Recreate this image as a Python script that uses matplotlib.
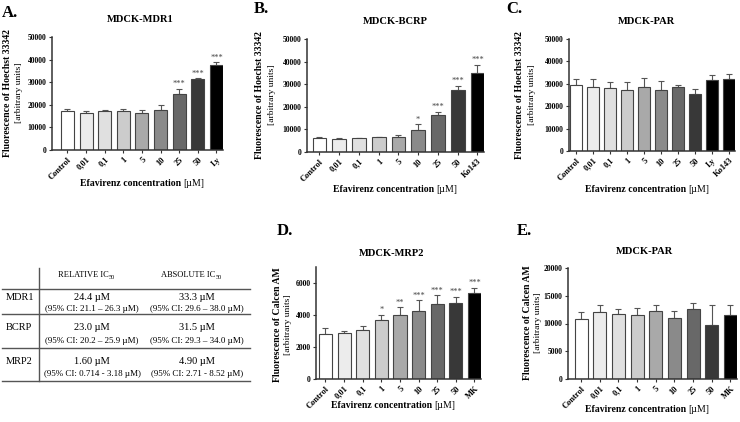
import numpy as np
import matplotlib
matplotlib.use("Agg")
import matplotlib.pyplot as plt

plt.rcParams['font.family'] = ['Liberation Serif', 'DejaVu Serif']

# ---- data ----
conc = ['Control', '0,01', '0,1', '1', '5', '10', '25', '50']

mdr1_labels = conc + ['Ly']
mdr1_mean = [17400, 16500, 17400, 17300, 16500, 17800, 24600, 31300, 37500]
mdr1_sd = [900, 600, 300, 800, 1000, 2200, 2400, 400, 1400]
mdr1_sig = ['', '', '', '', '', '', '***', '***', '***']

bcrp_labels = conc + ['Ko143']
bcrp_mean = [6060, 5900, 6050, 6500, 6800, 9900, 16300, 27400, 35000]
bcrp_sd = [600, 450, 300, 300, 900, 2400, 1600, 1900, 3500]
bcrp_sig = ['', '', '', '', '', '*', '***', '***', '***']

parh_labels = conc + ['Ly', 'Ko143']
parh_mean = [29400, 28500, 28100, 27200, 28400, 27200, 28400, 25500, 31800, 32200]
parh_sd = [2700, 3600, 2600, 3500, 4400, 4000, 900, 2100, 2100, 2300]

mrp2_labels = conc + ['MK']
mrp2_mean = [2810, 2850, 3040, 3690, 4020, 4270, 4670, 4750, 5375]
mrp2_sd = [380, 150, 290, 310, 460, 650, 560, 380, 335]
mrp2_sig = ['', '', '', '*', '**', '***', '***', '***', '***']

parc_labels = conc + ['MK']
parc_mean = [10800, 12000, 11640, 11580, 12180, 10990, 12700, 9730, 11580]
parc_sd = [1200, 1370, 1060, 1200, 1130, 1310, 1030, 3580, 1670]

greys = ['#ffffff', '#ececec', '#e0e0e0', '#cccccc', '#a9a9a9', '#8a8a8a', '#686868', '#383838']

tab_rows = ['MDR1', 'BCRP', 'MRP2']
tab_rel = ['24.4 µM', '23.0 µM', '1.60 µM']
tab_rel_ci = ['(95% CI: 21.1 – 26.3 µM)', '(95% CI: 20.2 – 25.9 µM)', '(95% CI: 0.714 - 3.18 µM)']
tab_abs = ['33.3 µM', '31.5 µM', '4.90 µM']
tab_abs_ci = ['(95% CI: 29.6 – 38.0 µM)', '(95% CI: 29.3 – 34.0 µM)', '(95% CI: 2.71 - 8.52 µM)']

W, H = 740, 422
fig = plt.figure(figsize=(W / 100, H / 100), dpi=100)

def fx(x):
    return x / W

def fy(y):
    return 1 - y / H

def ftext(x, y, s, **kw):
    fig.text(fx(x), fy(y), s, **kw)

dark = '#333333'


def panel(box, labels, mean, sd, ymax, yticks, xl, sig=None, colors=None):
    left, top, right, bottom = box
    ax = fig.add_axes([fx(left), fy(bottom), fx(right - left), (bottom - top) / H])
    n = len(labels)
    x = np.arange(n)
    if colors is None:
        colors = greys + ['#000000'] * (n - len(greys))
    ax.bar(x, mean, width=0.7, color=colors, edgecolor='#444444', linewidth=0.8, zorder=2)
    ax.errorbar(x, mean, yerr=[np.zeros(n), sd], fmt='none', ecolor='#555555',
                elinewidth=0.8, capsize=2.2, capthick=0.8, zorder=1)
    if sig:
        for i, s in enumerate(sig):
            if s:
                ax.annotate(s, (x[i], mean[i] + sd[i]), xytext=(0, 0.5), textcoords='offset points',
                            ha='center', va='bottom', fontsize=6, color='#444444')
    ax.set_xlim(xl[0], n - 1 + xl[1])
    ax.set_ylim(0, ymax)
    ax.set_yticks(yticks)
    ax.set_yticklabels([str(t) for t in yticks], fontsize=5.5, fontweight='bold')
    ax.set_xticks(x)
    ax.set_xticklabels(labels, rotation=45, ha='right', rotation_mode='anchor',
                       fontsize=6, fontweight='bold')
    for s in ['top', 'right']:
        ax.spines[s].set_visible(False)
    for s in ['left', 'bottom']:
        ax.spines[s].set_linewidth(1.1)
        ax.spines[s].set_color(dark)
    ax.tick_params(axis='both', length=2.5, width=0.8, color=dark, pad=1.5)
    ax.set_facecolor('none')
    return ax


def ylab(x1, x2, yc, first):
    ftext(x1, yc, first, rotation=90, ha='center', va='center', fontsize=7, fontweight='bold')
    ftext(x2, yc, '[arbitrary units]', rotation=90, ha='center', va='center', fontsize=6.8)


def xlab(xc, y):
    t = fig.text(fx(xc) - 0.014, fy(y), 'Efavirenz concentration ', ha='center', va='center',
                 fontsize=7, fontweight='bold')
    fig.canvas.draw()
    bb = t.get_window_extent()
    fig.text(bb.x1 / W, fy(y), '[µM]', ha='left', va='center', fontsize=7)


hoechst = 'Fluorescence of Hoechst 33342'
calcein = 'Fluorescence of Calcen AM'

# A
panel((52, 37, 223, 150), mdr1_labels, mdr1_mean, mdr1_sd, 50000,
      [0, 10000, 20000, 30000, 40000, 50000], (-0.83, 0.35), sig=mdr1_sig)
ftext(2, 13, 'A.', fontsize=12, fontweight='bold', va='center')
ftext(140, 20, 'MDCK-MDR1', fontsize=7.6, fontweight='bold', ha='center', va='center')
ylab(8, 19, 93, hoechst)
xlab(142, 183)

# B
panel((307, 39, 484, 152), bcrp_labels, bcrp_mean, bcrp_sd, 50000,
      [0, 10000, 20000, 30000, 40000, 50000], (-0.63, 0.33), sig=bcrp_sig)
ftext(254, 9, 'B.', fontsize=12, fontweight='bold', va='center')
ftext(395, 22, 'MDCK-BCRP', fontsize=7.6, fontweight='bold', ha='center', va='center')
ylab(260, 272, 95, hoechst)
xlab(395, 189)

# C
panel((569, 39, 735, 151), parh_labels, parh_mean, parh_sd, 50000,
      [0, 10000, 20000, 30000, 40000, 50000], (-0.4, 0.35))
ftext(506, 9, 'C.', fontsize=12, fontweight='bold', va='center')
ftext(647, 21, 'MDCK-PAR', fontsize=7.6, fontweight='bold', ha='center', va='center')
ylab(520, 532, 95, hoechst)
xlab(647, 190)

# D
panel((316, 267, 481, 379), mrp2_labels, mrp2_mean, mrp2_sd, 7000,
      [0, 2000, 4000, 6000], (-0.51, 0.35), sig=mrp2_sig)
ftext(277, 231, 'D.', fontsize=12, fontweight='bold', va='center')
ftext(392, 253, 'MDCK-MRP2', fontsize=7.6, fontweight='bold', ha='center', va='center')
ylab(277, 288, 325, calcein)
xlab(393, 405)

# E
panel((568, 268, 737, 379), parc_labels, parc_mean, parc_sd, 20000,
      [0, 5000, 10000, 15000, 20000], (-0.7, 0.35))
ftext(517, 231, 'E.', fontsize=12, fontweight='bold', va='center')
ftext(645, 252, 'MDCK-PAR', fontsize=7.6, fontweight='bold', ha='center', va='center')
ylab(527, 538, 323, calcein)
xlab(647, 409)

# ---- IC50 table ----
line_c = '#555555'
for yl in [289, 314, 348, 381]:
    fig.add_artist(plt.Line2D([fx(2), fx(250)], [fy(yl), fy(yl)], color=line_c, lw=1.0))
fig.add_artist(plt.Line2D([fx(39), fx(39)], [fy(268), fy(381)], color=line_c, lw=1.0))


def header(xc, word):
    t = fig.text(fx(xc) - 0.012, fy(277), word + ' IC', ha='center', va='baseline', fontsize=6)
    fig.canvas.draw()
    bb = t.get_window_extent()
    fig.text(bb.x1 / W, fy(279), '50', ha='left', va='baseline', fontsize=4.5)


header(92, 'RELATIVE')
header(197, 'ABSOLUTE')

row_y = [(297, 309), (328, 341), (362, 374)]
for i, name in enumerate(tab_rows):
    y1, y2 = row_y[i]
    ftext(6, y1, name, fontsize=7.5, ha='left', va='center')
    ftext(92, y1, tab_rel[i], fontsize=7.5, ha='center', va='center')
    ftext(92, y2, tab_rel_ci[i], fontsize=6.5, ha='center', va='center')
    ftext(197, y1, tab_abs[i], fontsize=7.5, ha='center', va='center')
    ftext(197, y2, tab_abs_ci[i], fontsize=6.5, ha='center', va='center')

fig.savefig('out.png', dpi=100)
